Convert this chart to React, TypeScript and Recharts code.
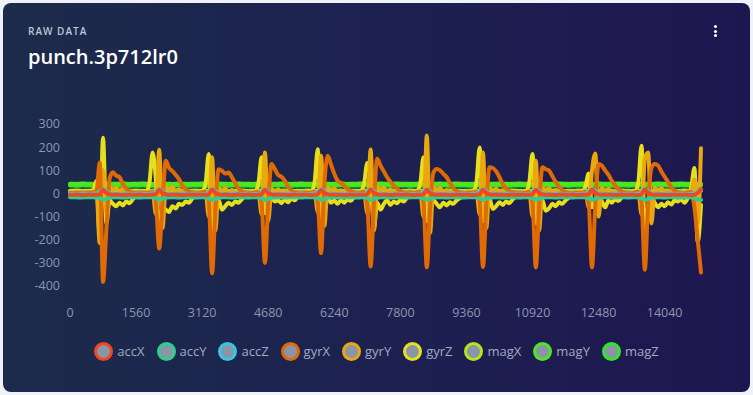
import { Line, LineChart, XAxis, YAxis } from "recharts"

// sample spacing of the recording, in ms
const SAMPLE_MS = 78

const accX = [
  -6, -6, -5, -6, -7, -6, -5, -6, -6, -3,
  16, 2, -4, -6, -5, -6, -7, -6, -5, -6,
  -6, -5, -6, -7, -6, -5, -3, 16, 2, -4,
  -6, -5, -6, -6, -7, -6, -5, -6, -6, -5,
  -6, -6, -3, 17, 2, -4, -6, -5, -6, -7,
  -6, -5, -6, -6, -5, -6, -7, -6, -3, 16,
  2, -4, -6, -5, -6, -6, -7, -6, -5, -6,
  -6, -5, -6, -7, -6, -3, 15, 2, -4, -6,
  -5, -6, -6, -7, -6, -5, -6, -6, -5, -6,
  -3, 17, 2, -4, -6, -5, -6, -7, -6, -5,
  -6, -6, -5, -6, -7, -6, -6, -3, 16, 2,
  -4, -6, -5, -6, -6, -7, -6, -5, -6, -6,
  -5, -6, -7, -6, -3, 16, 2, -4, -6, -5,
  -6, -6, -7, -6, -5, -6, -6, -5, -6, -6,
  -3, 15, 2, -4, -6, -5, -6, -7, -6, -5,
  -6, -6, -5, -6, -7, -6, -6, -3, 16, 2,
  -4, -6, -5, -6, -6, -7, -6, -5, -6, -6,
  -5, -6, -7, -3, 17, 2, -4, -6, -5, -6,
  -6, -7, -6, -5, -6, -6, -5, -6, -7, -6,
  2, 18,
]

const accY = [
  -17, -16, -17, -18, -17, -16, -17, -17, -18, -20,
  -28, -24, -18, -17, -16, -17, -18, -17, -16, -17,
  -17, -18, -17, -16, -17, -17, -20, -28, -24, -18,
  -17, -16, -17, -18, -17, -16, -17, -17, -18, -17,
  -16, -17, -20, -28, -24, -18, -17, -16, -17, -18,
  -17, -16, -17, -17, -18, -17, -16, -17, -20, -28,
  -24, -18, -17, -16, -17, -18, -17, -16, -17, -17,
  -18, -17, -16, -17, -17, -20, -28, -24, -18, -17,
  -16, -17, -18, -17, -16, -17, -17, -18, -17, -16,
  -20, -28, -24, -18, -17, -16, -17, -18, -17, -16,
  -17, -17, -18, -17, -16, -17, -17, -20, -28, -24,
  -18, -17, -16, -17, -18, -17, -16, -17, -17, -18,
  -17, -16, -17, -17, -20, -28, -24, -18, -17, -16,
  -17, -18, -17, -16, -17, -17, -18, -17, -16, -17,
  -20, -28, -24, -18, -17, -16, -17, -18, -17, -16,
  -17, -17, -18, -17, -16, -17, -17, -20, -28, -24,
  -18, -17, -16, -17, -18, -17, -16, -17, -17, -18,
  -17, -16, -17, -20, -28, -24, -18, -17, -16, -17,
  -18, -17, -16, -17, -17, -18, -17, -16, -17, -20,
  -26, -28,
]

const accZ = [
  -1, 0, -2, -1, 0, -1, -2, -1, 0, 6,
  18, 10, -6, 0, -1, -2, -1, 0, -1, -2,
  -1, 0, -1, -2, -1, 0, 6, 18, 10, -6,
  0, -1, -2, -1, 0, -1, -2, -1, 0, -1,
  -2, -1, 6, 18, 10, -6, 0, -1, -2, -1,
  0, -1, -2, -1, 0, -1, -2, -1, 6, 18,
  10, -6, 0, -1, -2, -1, 0, -1, -2, -1,
  0, -1, -2, -1, 0, 6, 18, 10, -6, 0,
  -1, -2, -1, 0, -1, -2, -1, 0, -1, -2,
  6, 18, 10, -6, 0, -1, -2, -1, 0, -1,
  -2, -1, 0, -1, -2, -1, 0, 6, 18, 10,
  -6, 0, -1, -2, -1, 0, -1, -2, -1, 0,
  -1, -2, -1, 0, 6, 18, 10, -6, 0, -1,
  -2, -1, 0, -1, -2, -1, 0, -1, -2, -1,
  6, 18, 10, -6, 0, -1, -2, -1, 0, -1,
  -2, -1, 0, -1, -2, -1, 0, 6, 18, 10,
  -6, 0, -1, -2, -1, 0, -1, -2, -1, 0,
  -1, -2, -1, 6, 18, 10, -6, 0, -1, -2,
  -1, 0, -1, -2, -1, 0, -1, -2, -1, 0,
  6, 18,
]

const gyrX = [
  3, 2, 4, 3, 2, 4, 3, 5, 8, 134,
  -382, -160, 64, 91, 77, 70, 41, 21, 8, 3,
  2, 4, 3, 1, 3, 6, -40, -238, -40, 141,
  110, 96, 80, 62, 35, 18, 8, 4, 3, 2,
  5, 6, -30, -345, -70, 105, 98, 86, 90, 70,
  45, 22, 9, 4, 3, 2, 4, 5, -40, -300,
  -40, 127, 105, 80, 72, 55, 30, 12, 5, 3,
  3, 4, 2, 3, 6, -40, -258, 40, 163, 125,
  85, 55, 45, 35, 18, 10, 5, 3, 4, 6,
  -50, -316, -40, 150, 120, 95, 70, 50, 35, 20,
  10, 5, 3, 5, 2, 4, 6, -40, -320, -60,
  90, 106, 100, 85, 70, 45, 25, 10, 5, 3,
  2, 4, 3, 6, -30, -318, -50, 113, 110, 95,
  70, 40, 22, 10, 5, 3, 4, 2, 3, 6,
  -40, -320, -60, 113, 105, 99, 75, 50, 30, 14,
  6, 3, 2, 4, 3, 2, 6, -40, -320, -50,
  127, 120, 99, 80, 55, 35, 18, 8, 4, 3,
  2, 4, 6, -40, -330, -40, 110, 127, 120, 95,
  72, 50, 28, 12, 5, 3, 2, 4, 6, -60,
  -200, -342,
]

const gyrY = [
  4, 6, 3, 5, 7, 4, 6, 5, 15, -215,
  100, -80, 30, 15, 25, 10, 20, 5, 12, 4,
  6, 3, 5, 7, 4, 12, -90, 189, -150, 30,
  15, 28, 8, 18, 4, 10, 3, 6, 4, 5,
  3, 10, -100, 156, -160, 25, 10, 22, 6, 15,
  3, 5, 4, 6, 3, 5, 4, 10, -90, 177,
  -120, 20, 8, 18, 4, 12, 2, 5, 4, 6,
  3, 5, 4, 6, 10, -80, 163, -140, 25, 12,
  22, 6, 14, 3, 5, 4, 6, 3, 5, 10,
  -86, 190, -160, 30, 15, 25, 8, 16, 4, 6,
  3, 5, 4, 6, 3, 5, 12, -100, 250, -170,
  30, 12, 24, 6, 15, 3, 5, 4, 6, 3,
  5, 4, 6, 10, -90, 177, -150, 25, 10, 20,
  5, 14, 3, 5, 4, 6, 3, 5, 4, 10,
  -100, 141, -160, 25, 12, 22, 6, 15, 3, 5,
  4, 6, 3, 5, 4, 6, 12, -60, 100, 172,
  -100, 25, 10, 20, 5, 12, 3, 5, 4, 6,
  3, 5, 10, -90, 150, 177, -130, 25, 12, 22,
  6, 14, 3, 5, 4, 6, 3, 5, 4, 60,
  -130, 195,
]

const gyrZ = [
  8, 10, 7, 9, 11, 8, 10, 10, 55, -190,
  241, -130, -30, -45, -55, -40, -52, -35, -42, -25,
  -10, 0, 6, 8, 40, 177, 60, -170, -60, -70,
  -80, -55, -65, -45, -50, -35, -40, -22, -10, 2,
  8, 40, 170, -200, -50, -30, -70, -55, -40, -50,
  -35, -40, -25, -12, -2, 5, 8, 40, 156, -86,
  -40, -20, -35, -30, -42, -25, -38, -22, -30, -15,
  -5, 4, 8, 8, 45, 191, -150, -60, -20, -40,
  -30, -45, -28, -40, -25, -32, -15, -5, 6, 40,
  132, 60, -150, -40, -70, -45, -30, -50, -35, -42,
  -28, -35, -18, -8, 2, 8, 40, 156, -120, -80,
  -30, -45, -60, -40, -52, -38, -45, -30, -20, -8,
  2, 6, 8, 45, 198, -120, -60, -25, -67, -55,
  -38, -50, -35, -42, -25, -15, -5, 3, 8, 45,
  170, -130, -70, -30, -75, -65, -45, -55, -38, -45,
  -30, -18, -8, 2, 6, 8, 30, 86, -60, -40,
  -20, -35, -60, -30, -40, -25, -32, -18, -8, 0,
  5, 8, 45, 206, -150, -60, -25, -40, -60, -45,
  -55, -38, -48, -30, -35, -25, -40, -20, 20, 110,
  -210, -50,
]

const magX = [
  12, 12, 13, 12, 11, 12, 12, 13, 12, 12, 11, 12, 12, 13, 12, 12,
  12, 11, 12, 12, 13, 12, 12, 12, 11, 12, 13, 12, 12, 12, 11, 12,
  13, 12, 12, 11, 12, 12, 13, 12, 12, 12, 11, 12, 12, 13, 12, 12,
  11, 12, 12, 12, 13, 12, 11, 12, 12, 12, 13, 12, 12, 11, 12, 12,
  12, 13, 12, 12, 11, 12, 12, 12, 13, 12, 12, 11, 12, 13, 12, 12,
  12, 12, 11, 12, 13, 12, 12, 12, 11, 12, 12, 13, 12, 12, 12, 11,
  12, 13, 12, 12, 11, 12, 12, 13, 12, 12, 12, 11, 12, 12, 13, 12,
  12, 11, 12, 13, 12, 12, 12, 11, 12, 12, 13, 12, 12, 11, 12, 12,
  13, 12, 12, 12, 11, 12, 13, 12, 12, 11, 12, 12, 12, 13, 12, 12,
  11, 12, 12, 13, 12, 12, 11, 12, 12, 12, 13, 12, 11, 12, 12, 12,
  12, 13, 12, 11, 12, 12, 12, 13, 12, 12, 11, 12, 12, 13, 12, 12,
  12, 11, 12, 12, 13, 12, 12, 12, 11, 12, 13, 12, 12, 12, 11, 12,
]

const magY = [
  42, 42, 41, 42, 43, 42, 42, 41, 42, 42, 43, 42, 41, 42, 42, 42,
  43, 42, 41, 42, 42, 42, 43, 42, 42, 41, 42, 42, 43, 42, 42, 41,
  42, 43, 42, 42, 41, 42, 42, 42, 43, 42, 41, 42, 42, 43, 42, 42,
  41, 42, 42, 43, 42, 42, 42, 41, 42, 43, 42, 42, 41, 42, 42, 42,
  43, 42, 42, 41, 42, 42, 43, 42, 42, 42, 41, 42, 43, 42, 42, 41,
  42, 42, 43, 42, 41, 42, 42, 42, 43, 42, 42, 41, 42, 42, 43, 42,
  42, 41, 42, 43, 42, 42, 42, 41, 42, 42, 43, 42, 41, 42, 42, 42,
  43, 42, 42, 41, 42, 43, 42, 42, 42, 41, 42, 42, 43, 42, 42, 41,
  42, 42, 43, 42, 42, 41, 42, 42, 43, 42, 42, 42, 41, 42, 43, 42,
  42, 41, 42, 42, 43, 42, 42, 41, 42, 42, 42, 43, 42, 41, 42, 42,
  43, 42, 42, 42, 41, 42, 43, 42, 42, 41, 42, 42, 42, 43, 42, 42,
  41, 42, 43, 42, 42, 42, 41, 42, 42, 43, 42, 42, 41, 42, 42, 42,
]

const magZ = [
  34, 34, 33, 34, 35, 34, 34, 33, 34, 34, 35, 34, 33, 34, 34, 34,
  35, 34, 33, 34, 34, 34, 35, 34, 34, 33, 34, 34, 35, 34, 34, 33,
  34, 35, 34, 34, 33, 34, 34, 34, 35, 34, 33, 34, 34, 35, 34, 34,
  33, 34, 34, 35, 34, 34, 34, 33, 34, 35, 34, 34, 33, 34, 34, 34,
  35, 34, 34, 33, 34, 34, 35, 34, 34, 34, 33, 34, 35, 34, 34, 33,
  34, 34, 35, 34, 33, 34, 34, 34, 35, 34, 34, 33, 34, 34, 35, 34,
  34, 33, 34, 35, 34, 34, 34, 33, 34, 34, 35, 34, 33, 34, 34, 34,
  35, 34, 34, 33, 34, 35, 34, 34, 34, 33, 34, 34, 35, 34, 34, 33,
  34, 34, 35, 34, 34, 33, 34, 34, 35, 34, 34, 34, 33, 34, 35, 34,
  34, 33, 34, 34, 35, 34, 34, 33, 34, 34, 34, 35, 34, 33, 34, 34,
  35, 34, 34, 34, 33, 34, 35, 34, 34, 33, 34, 34, 34, 35, 34, 34,
  33, 34, 35, 34, 34, 34, 33, 34, 34, 35, 34, 34, 33, 34, 34, 34,
]

const xTicks = [0, 1560, 3120, 4680, 6240, 7800, 9360, 10920, 12480, 14040]
const yTicks = [-400, -300, -200, -100, 0, 100, 200, 300]

const seriesKeys = ["accX", "accY", "accZ", "gyrX", "gyrY", "gyrZ", "magX", "magY", "magZ"]
const seriesColors: Record<string, string> = {
  accX: "#f2461e",
  accY: "#2ecf8e",
  accZ: "#36c6e8",
  gyrX: "#e06a04",
  gyrY: "#e8a80e",
  gyrZ: "#e6e01c",
  magX: "#b4e41e",
  magY: "#4fe61e",
  magZ: "#2fe62a",
}
// magnetometer underneath, accelerometer on top
const drawOrder = ["magZ", "magY", "magX", "gyrZ", "gyrY", "gyrX", "accY", "accZ", "accX"]

const data = accX.map((_, i) => ({
  t: i * SAMPLE_MS,
  accX: accX[i],
  accY: accY[i],
  accZ: accZ[i],
  gyrX: gyrX[i],
  gyrY: gyrY[i],
  gyrZ: gyrZ[i],
  magX: magX[i],
  magY: magY[i],
  magZ: magZ[i],
}))

const tickStyle = { fill: "#8d96ae", fontSize: 12.5, fontFamily: '"Open Sans", sans-serif' }

function LegendRow() {
  return (
    <div
      style={{
        position: "absolute",
        left: 0,
        top: 338,
        width: 747,
        height: 20,
        display: "flex",
        justifyContent: "center",
        alignItems: "center",
        gap: 12,
      }}
    >
      {seriesKeys.map((key) => (
        <div key={key} style={{ display: "flex", alignItems: "center" }}>
          <span
            style={{
              width: 13,
              height: 13,
              borderRadius: "50%",
              background: "#8b95a8",
              border: `3px solid ${seriesColors[key]}`,
              marginRight: 4,
            }}
          />
          <span style={{ color: "#a2aac0", fontSize: 13, lineHeight: "20px" }}>{key}</span>
        </div>
      ))}
    </div>
  )
}

export default function App() {
  return (
    <div style={{ position: "fixed", inset: 0, background: "#eff2f8" }}>
      <div
        style={{
          position: "absolute",
          left: 3,
          top: 3,
          width: 747,
          height: 389,
          borderRadius: 8,
          overflow: "hidden",
          background: "linear-gradient(90deg, #1c2b4b 0%, #1d2150 50%, #1e1650 100%)",
          fontFamily: '"Open Sans", sans-serif',
        }}
      >
        <div
          style={{
            position: "absolute",
            left: 25,
            top: 23,
            fontSize: 10,
            lineHeight: 1,
            fontWeight: 600,
            letterSpacing: 1,
            color: "#bfc5d5",
          }}
        >
          RAW DATA
        </div>
        <div
          style={{
            position: "absolute",
            left: 25,
            top: 44,
            fontSize: 20,
            lineHeight: 1,
            fontWeight: 600,
            color: "#ffffff",
          }}
        >
          punch.3p712lr0
        </div>
        {[23.5, 28, 32.5].map((y) => (
          <span
            key={y}
            style={{
              position: "absolute",
              left: 711.3,
              top: y - 1.5,
              width: 3,
              height: 3,
              borderRadius: "50%",
              background: "#ffffff",
            }}
          />
        ))}

        <div style={{ position: "absolute", left: 0, top: 0 }}>
          <LineChart width={747} height={323} data={data} margin={{ top: 121, right: 49, bottom: 0, left: 0 }}>
            <XAxis
              dataKey="t"
              type="number"
              domain={["dataMin", "dataMax"]}
              ticks={xTicks}
              axisLine={false}
              tickLine={false}
              tickSize={0}
              tickMargin={22}
              height={40}
              tick={tickStyle}
            />
            <YAxis
              domain={[-400, 300]}
              ticks={yTicks}
              axisLine={false}
              tickLine={false}
              tickSize={0}
              tickMargin={10}
              width={67}
              tick={tickStyle}
            />
            {drawOrder.map((key) => (
              <Line
                key={key}
                type="monotone"
                dataKey={key}
                stroke={seriesColors[key]}
                strokeWidth={4}
                strokeLinejoin="round"
                strokeLinecap="round"
                dot={false}
                activeDot={false}
                isAnimationActive={false}
              />
            ))}
          </LineChart>
        </div>

        <LegendRow />
      </div>
    </div>
  )
}
